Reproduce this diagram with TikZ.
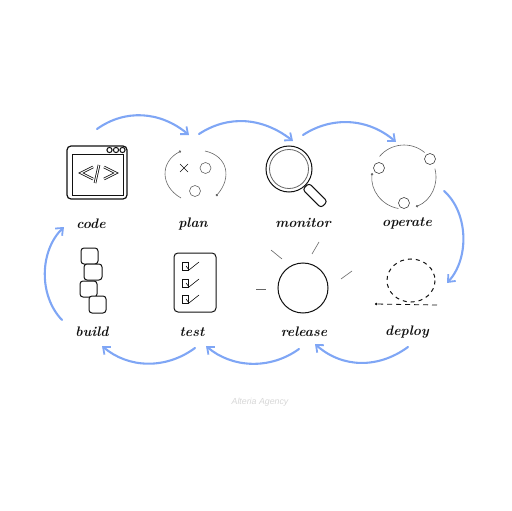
\documentclass[tikz,border=0pt]{standalone}
\usepackage{fontspec}
\setsansfont{Liberation Sans}
\usetikzlibrary{arrows.meta}
\definecolor{flow}{HTML}{7FA6F5}
\definecolor{ink}{HTML}{111111}
\tikzset{
  x=1pt,y=-1pt,
  flowarrow/.style={draw=flow,line width=2.1pt,line cap=round,-{Straight Barb[length=6pt,width=10pt,line width=1.8pt]}},
  steplabel/.style={font=\bfseries\itshape\fontsize{13.8}{16}\selectfont,text=ink,inner sep=0pt},
  thick ink/.style={draw=ink,line width=1pt},
  thin ink/.style={draw=ink,line width=.6pt},
  pale/.style={draw=black!60,line width=.6pt},
  smalldot/.style={-{Circle[length=2.4pt]}},
}
\begin{document}
\begin{tikzpicture}
\useasboundingbox (0,0) rectangle (512,511);
% labels
\node[steplabel] (code) at (91,224) {code};
\node[steplabel] (plan) at (193,224) {plan};
\node[steplabel] (monitor) at (303,223) {monitor};
\node[steplabel] (operate) at (407,223) {operate};
\node[steplabel] (build) at (92,332) {build};
\node[steplabel] (test) at (192,332) {test};
\node[steplabel] (release) at (304,332) {release};
\node[steplabel] (deploy) at (407,332) {deploy};
\node[font=\sffamily\itshape\fontsize{8.8}{9}\selectfont,text=black!16,inner sep=0pt] (credit) at (260,402) {Alteria Agency};
% connector ends
\coordinate (a1) at (97,129); \coordinate (a2) at (189,135);
\coordinate (b1) at (199,134); \coordinate (b2) at (293,141);
\coordinate (c1) at (303,135); \coordinate (c2) at (396,142);
\coordinate (d1) at (444,191); \coordinate (d2) at (447,283);
\coordinate (e1) at (408,347); \coordinate (e2) at (315,344);
\coordinate (f1) at (299,349); \coordinate (f2) at (206,346);
\coordinate (g1) at (195,348); \coordinate (g2) at (102,346);
\coordinate (h1) at (62,320); \coordinate (h2) at (64,227);
% connectors
\draw[flowarrow] (a1) .. controls (125,109) and (160,111) .. (a2);
\draw[flowarrow] (b1) .. controls (228,115) and (262,117) .. (b2);
\draw[flowarrow] (c1) .. controls (332,116) and (368,118) .. (c2);
\draw[flowarrow] (d1) .. controls (468,212) and (470,258) .. (d2);
\draw[flowarrow] (e1) .. controls (378,369) and (342,368) .. (e2);
\draw[flowarrow] (f1) .. controls (270,370) and (232,368) .. (f2);
\draw[flowarrow] (g1) .. controls (165,370) and (128,368) .. (g2);
\draw[flowarrow] (h1) .. controls (38,295) and (40,250) .. (h2);
% code icon
\draw[thick ink,line width=1.2pt,rounded corners=4pt] (67,146) rectangle (127,199);
\draw[thick ink] (72,154) rectangle (123,195);
\foreach \p in {109.5,116,122.5}{\draw[thick ink,fill=white] (\p,150) circle (2.6);}
\foreach \w/\c in {2.6/ink,1/white}{
  \draw[line width=\w pt,draw=\c,line join=miter] (93,167) -- (81,173) -- (93,179);
  \draw[line width=\w pt,draw=\c,line join=miter] (104,167) -- (116,173) -- (104,179);
  \draw[line width=\w pt,draw=\c] (99,165) -- (95,183);
}
% plan icon
\draw[pale,smalldot] (181,198) .. controls (160,186) and (160,162) .. (181,151);
\draw[pale,smalldot] (205,151) .. controls (228,156) and (232,178) .. (216,196);
\draw[thin ink] (180,164) -- (188,172) (188,164) -- (180,172);
\draw[pale] (205.5,168) circle (5.5) (195,191) circle (5.5);
% monitor icon
\draw[thick ink] (289,169) circle (23);
\draw[pale,line width=.8pt] (289,169) circle (19.5);
\draw[thick ink,rounded corners=3pt,rotate around={-45:(315,195.5)}] (302,191) rectangle (328,200);
% operate icon
\draw[pale,smalldot] (398.4,208.5) arc[start angle=100,end angle=187,radius=32];
\draw[pale,smalldot] (434.9,168.7) arc[start angle=-15,end angle=68,radius=32];
\draw[pale] (424.6,152.5) arc[start angle=-50,end angle=-140,radius=32];
\draw[thin ink,draw=black!75] (379,168) circle (5.5) (430,159) circle (5.5) (404,203) circle (5.5);
% build icon
\foreach \xa/\ya/\xb/\yb in {81/248/98/264,84/264/102/280,80/281/97/297,89/296/106/313}{
  \draw[thick ink,fill=white,rounded corners=3pt] (\xa,\ya) rectangle (\xb,\yb);
}
% test icon
\draw[thick ink,rounded corners=4pt] (174,253) rectangle (216,312);
\foreach \o in {0,17,33}{
  \draw[thick ink] (182,262+\o) rectangle (188,270+\o);
  \draw[thin ink] (186,266+\o) -- (189,270+\o) -- (199,262+\o);
}
% release icon
\draw[thick ink] (303,288) circle (25);
\draw[pale] (271,250) -- (282,259) (319,242) -- (312,254) (352,271) -- (341,279);
\draw[pale,line width=.8pt] (256,289) -- (266,289);
% deploy icon
\draw[thick ink,dash pattern=on 4pt off 4pt] (411,280.5) ellipse[x radius=24,y radius=21.5];
\draw[thin ink,line width=.8pt,dash pattern=on 5pt off 4pt,smalldot] (437,305) -- (375,304);
\end{tikzpicture}
\end{document}
